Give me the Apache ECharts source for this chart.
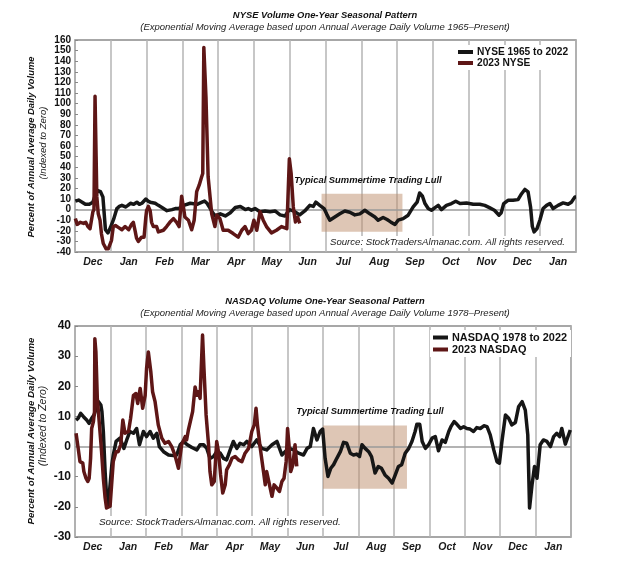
<!DOCTYPE html>
<html>
<head>
<meta charset="utf-8">
<script src="https://cdn.jsdelivr.net/npm/echarts@6/dist/echarts.min.js"></script>
<style>
html,body{margin:0;padding:0;background:#fff;}
#chart{width:640px;height:573px;}
</style>
</head>
<body>
<div id="chart"></div>
<script>
const months = ['Dec','Jan','Feb','Mar','Apr','May','Jun','Jul','Aug','Sep','Oct','Nov','Dec','Jan'];

// x = months since start of December, y = percent of annual average daily volume
const nyseHistory = [
[0.01,8],[0.1,9],[0.2,7],[0.29,5],[0.4,5],[0.5,7],[0.57,14],[0.64,18],[0.71,17],[0.78,12],[0.85,-19],[0.92,-22],[0.99,-17],[1.08,-9],[1.17,1],[1.24,3],[1.31,4],[1.41,2.5],[1.48,4],[1.55,6],[1.64,5],[1.73,7],[1.8,5],[1.87,6],[1.98,10],[2.04,8],[2.1,7],[2.24,6],[2.33,4],[2.43,2],[2.57,-1],[2.71,0],[2.8,1],[2.9,1],[3.04,4],[3.22,6],[3.41,5],[3.55,7],[3.62,8],[3.69,6],[3.76,2],[3.83,-2],[3.92,-6],[4.06,-4],[4.2,-6],[4.34,-3],[4.48,2],[4.62,3],[4.76,0],[4.84,1],[4.93,-0.5],[5.03,1],[5.17,-2],[5.31,-1.3],[5.45,-2],[5.59,-1.3],[5.73,-5],[5.87,-6],[5.99,0],[6.12,-1.5],[6.28,-5],[6.42,-1.3],[6.56,4],[6.66,3],[6.73,7],[6.84,4],[6.96,1],[7.03,-4],[7.12,-10],[7.26,-7],[7.4,-4],[7.54,-1.3],[7.68,-2.5],[7.82,-5],[7.96,-4],[8.1,-0.6],[8.24,-4],[8.38,-7],[8.47,-10],[8.61,-7.5],[8.72,-9.4],[8.82,-11.6],[8.94,-14],[9.03,-10],[9.17,-8.5],[9.31,-5.3],[9.45,2.5],[9.56,7],[9.63,15.7],[9.71,12.6],[9.78,5.7],[9.87,1],[9.96,-0.6],[10.06,1.9],[10.15,4],[10.24,0],[10.38,4],[10.52,5.7],[10.64,7.9],[10.76,5.7],[10.94,6.3],[11.13,5],[11.31,5],[11.45,4],[11.58,1.9],[11.72,-0.6],[11.85,-5.3],[11.91,-3],[11.98,5.7],[12.1,8.8],[12.24,8.8],[12.38,9.4],[12.48,15],[12.57,19],[12.66,16.7],[12.73,2.5],[12.78,-16],[12.83,-21],[12.91,-18],[12.99,-10],[13.08,1],[13.18,4],[13.27,5.7],[13.36,1],[13.5,4],[13.64,6.3],[13.78,5],[13.87,7],[13.97,12],[14,12]
];
const nyse2023 = [
[0.01,-8.5],[0.06,-14],[0.1,-15],[0.15,-12],[0.19,-11],[0.24,-13],[0.3,-12],[0.36,-16],[0.42,-18],[0.47,-19],[0.5,-2],[0.53,0],[0.56,107],[0.59,50],[0.61,12],[0.65,-4],[0.7,-10],[0.74,-23],[0.79,-32],[0.87,-37],[0.93,-37],[1.02,-29],[1.07,-16],[1.13,-15],[1.22,-17],[1.31,-19],[1.4,-16],[1.5,-19],[1.58,-14],[1.63,-12],[1.68,-20],[1.72,-27],[1.77,-30],[1.86,-26],[1.93,-26],[1.98,-7],[2.0,-1],[2.05,3],[2.1,-1],[2.14,-12],[2.19,-16],[2.28,-16],[2.33,-21],[2.47,-19.5],[2.56,-16],[2.65,-12],[2.75,-8.5],[2.84,-12],[2.91,-16],[2.98,12.6],[3.03,2.5],[3.07,-7],[3.17,-10],[3.26,-19],[3.33,-10],[3.4,17],[3.47,23],[3.54,31],[3.57,34],[3.6,153],[3.66,106],[3.72,31],[3.82,-4],[3.91,-16],[3.96,-5],[4.05,-8.5],[4.14,-19.5],[4.28,-19.5],[4.42,-22.6],[4.56,-26],[4.66,-19.5],[4.75,-16],[4.84,-22.6],[4.93,-19.5],[5.0,-10],[5.08,-19.5],[5.17,-2],[5.26,-10],[5.35,-16],[5.49,-22],[5.63,-19.5],[5.77,-16],[5.92,-18],[5.99,48],[6.04,34],[6.1,2.5],[6.16,-11.6],[6.22,-7],[6.28,-13]
];
const nasdaqHistory = [
[0.03,8.8],[0.09,9.4],[0.16,11],[0.24,9.9],[0.33,8.8],[0.4,7.7],[0.47,9.4],[0.54,10.5],[0.61,13.2],[0.66,14.9],[0.73,13.8],[0.76,11.6],[0.8,5],[0.85,-8.3],[0.89,-16],[0.94,-19.3],[0.99,-12.7],[1.04,-6],[1.08,-2.8],[1.16,1.7],[1.27,2.8],[1.38,-0.6],[1.46,2.2],[1.55,5],[1.65,4.4],[1.74,6],[1.82,0.6],[1.93,5],[2.02,3.3],[2.12,5],[2.21,2.8],[2.31,4.4],[2.38,0],[2.5,-1.7],[2.64,-2.8],[2.78,-3],[2.87,-2.8],[2.97,0.6],[3.06,1.7],[3.15,0.8],[3.3,-0.3],[3.44,-1.1],[3.53,0.6],[3.63,0.6],[3.72,-0.6],[3.81,-3.9],[3.91,-3.3],[4.0,-1.7],[4.1,-2.2],[4.19,-3.9],[4.28,-4.4],[4.38,-1.1],[4.47,1.7],[4.57,-0.6],[4.66,1.1],[4.76,0.6],[4.85,1.7],[4.99,0],[5.13,2.2],[5.27,-0.6],[5.41,-1.1],[5.56,0.6],[5.7,1.7],[5.84,-2.8],[5.93,-1.7],[6.05,-0.6],[6.17,-1.1],[6.31,-2.2],[6.45,-2.8],[6.55,-0.6],[6.64,0],[6.73,6],[6.83,2.2],[6.92,5],[6.99,5.8],[7.06,-3.9],[7.14,-9.9],[7.22,-7.2],[7.3,-6],[7.39,-3.9],[7.49,-1.7],[7.58,1.4],[7.67,1.1],[7.77,-2.2],[7.86,-2.8],[7.95,-2.5],[8.03,-3.3],[8.1,0.6],[8.19,-0.6],[8.29,-1.7],[8.37,-3.3],[8.47,-8.8],[8.56,-6.6],[8.65,-7.2],[8.75,-9.4],[8.85,-10.5],[8.95,-12.1],[9.04,-9.4],[9.13,-6.6],[9.22,-6],[9.32,-2.2],[9.42,-0.6],[9.51,1.7],[9.6,5],[9.65,7.4],[9.73,7.4],[9.8,1.7],[9.89,-0.6],[9.98,0.6],[10.08,2.8],[10.17,3.3],[10.26,-1.4],[10.36,2.2],[10.45,1.4],[10.55,5],[10.61,6.6],[10.7,8.3],[10.78,7.4],[10.88,6],[10.97,6.6],[11.06,6],[11.15,5.8],[11.25,5],[11.34,6.3],[11.44,6],[11.54,6.9],[11.63,6.6],[11.72,3.9],[11.82,-1.1],[11.91,-5],[11.98,-5.5],[12.05,1.7],[12.15,10.5],[12.24,9.4],[12.33,7.2],[12.43,8],[12.52,13.2],[12.62,14.9],[12.71,12.1],[12.78,3.9],[12.83,-20.4],[12.9,-12.7],[12.97,-6.6],[13.04,-10.5],[13.13,0.6],[13.22,2.2],[13.32,1.7],[13.42,0],[13.51,3.3],[13.6,4.4],[13.68,3.3],[13.74,6],[13.84,0.8],[13.98,5.5]
];
const nasdaq2023 = [
[0.03,4.4],[0.09,-0.6],[0.14,-5],[0.22,-5.5],[0.25,-8.3],[0.31,-10.5],[0.36,-11.6],[0.4,-10.5],[0.44,-3.9],[0.47,6],[0.52,8.3],[0.55,11.6],[0.56,35.8],[0.59,31.4],[0.63,16],[0.69,7.2],[0.75,-1.7],[0.8,-10.5],[0.85,-17],[0.89,-20.4],[0.99,-19.8],[1.08,-5],[1.16,-1.7],[1.22,-1.7],[1.29,0.6],[1.35,8.8],[1.41,4.4],[1.51,5],[1.57,9.4],[1.65,17],[1.72,17.6],[1.77,14.3],[1.84,19.3],[1.91,12.7],[1.98,17],[2.02,25.9],[2.07,31.4],[2.14,24.8],[2.19,18.2],[2.26,14.9],[2.35,7.2],[2.45,2.8],[2.54,1.1],[2.64,1.7],[2.73,0],[2.82,-2.8],[2.92,-7.2],[2.97,-7.7],[3.01,0.6],[3.11,3.3],[3.15,2.2],[3.2,5.5],[3.25,5],[3.32,11.6],[3.39,19.8],[3.44,17],[3.48,18.2],[3.53,16],[3.6,37],[3.64,25.9],[3.7,10.5],[3.77,0.6],[3.81,-8.3],[3.86,-12.7],[3.93,-11.6],[4.0,1.7],[4.05,-1.7],[4.11,-9.4],[4.17,-15.4],[4.24,-12.7],[4.28,-7.7],[4.36,-6],[4.43,-3.9],[4.52,-3.3],[4.61,-4.4],[4.71,-5],[4.8,-2.2],[4.9,-0.6],[4.99,5],[5.06,7.2],[5.11,12.7],[5.15,7.2],[5.23,-0.6],[5.32,-8.3],[5.37,-12.7],[5.41,-8.3],[5.49,-12.7],[5.56,-16.5],[5.62,-12.7],[5.7,-13.8],[5.77,-14.9],[5.84,-11.6],[5.9,-10.5],[5.96,-5],[6.0,6],[6.04,0.6],[6.09,-8.3],[6.15,-6],[6.21,0.6],[6.26,-6.6]
];
const nyseLull = [[6.89, 15], [9.15, -21]];
const nasdaqLull = [[7.0, 7], [9.37, -14]];

const FONT = '"Liberation Sans", Arial, Helvetica, sans-serif';
const BLACK = '#161616';
const RED = '#5e1616';

function monthAxis(gridIndex) {
  return [
    {gridIndex, type:'value', min:0, max:14, interval:1, position:'bottom',
     axisLine:{show:false}, axisTick:{show:false}, axisLabel:{show:false},
     splitLine:{show:true, lineStyle:{color:'#b4b4b4', width:1.5}}},
    {gridIndex, type:'category', data:months, position:'bottom', boundaryGap:true,
     axisLine:{show:false}, axisTick:{show:false}, splitLine:{show:false},
     axisLabel:{fontFamily:FONT, fontWeight:'bold', fontStyle:'italic', fontSize:10.5, color:'#1a1a1a', margin:5, interval:0}}
  ];
}
function pctAxis(gridIndex, min, max, size) {
  return {gridIndex, type:'value', min, max, interval:10,
    axisLine:{show:false},
    axisTick:{show:true, inside:true, length:3, lineStyle:{color:'#888'}},
    splitLine:{show:false},
    axisLabel:{fontFamily:FONT, fontWeight:'bold', fontSize:size, color:'#111', margin:4,
      showMinLabel:true, showMaxLabel:true, hideOverlap:false}};
}
function lineSeries(name, data, xi, yi, color, z, lull) {
  const s = {name, type:'line', data, xAxisIndex:xi, yAxisIndex:yi, showSymbol:false, symbol:'none',
    lineStyle:{color, width:3.5, join:'round'}, itemStyle:{color}, z, animation:false};
  if (lull) {
    s.markArea = {silent:true, z:1, itemStyle:{color:'rgba(189,141,107,0.5)'},
      data:[[{coord:lull[0]},{coord:lull[1]}]]};
    s.markLine = {silent:true, z:2, symbol:'none', label:{show:false},
      lineStyle:{color:'#9a9a9a', width:1.5, type:'solid'}, data:[{yAxis:0}]};
  }
  return s;
}
function txt(x, y, text, opt) {
  return Object.assign({type:'text', x, y, z:100, style:Object.assign({text, fontFamily:FONT, fill:'#111',
    align:'center', verticalAlign:'middle'}, opt.style || {})}, opt.el || {});
}

const chart = echarts.init(document.getElementById('chart'), null, {renderer:'canvas'});
chart.setOption({
  animation:false,
  backgroundColor:'#fff',
  grid:[
    {left:75, top:40, width:501, height:212, show:true, borderColor:'#8a8a8a', borderWidth:1.5},
    {left:75, top:326, width:496, height:211, show:true, borderColor:'#8a8a8a', borderWidth:1.5}
  ],
  xAxis:[...monthAxis(0), ...monthAxis(1)],
  yAxis:[pctAxis(0,-40,160,10), pctAxis(1,-30,40,12)],
  legend:[
    {data:['NYSE 1965 to 2022','2023 NYSE'], left:455, top:45, orient:'vertical', icon:'rect',
     itemWidth:15, itemHeight:4, itemGap:1, backgroundColor:'#fff', padding:[2,4,2,3],
     textStyle:{fontFamily:FONT, fontWeight:'bold', fontSize:10.2, color:'#111', padding:[0,0,0,-1]}},
    {data:['NASDAQ 1978 to 2022','2023 NASDAQ'], left:430, top:330, orient:'vertical', icon:'rect',
     itemWidth:15, itemHeight:4, itemGap:1, backgroundColor:'#fff', padding:[2,4,2,3],
     textStyle:{fontFamily:FONT, fontWeight:'bold', fontSize:10.9, color:'#111', padding:[0,0,0,-1]}}
  ],
  series:[
    lineSeries('NYSE 1965 to 2022', nyseHistory, 0, 0, BLACK, 3, nyseLull),
    lineSeries('2023 NYSE', nyse2023, 0, 0, RED, 4),
    lineSeries('NASDAQ 1978 to 2022', nasdaqHistory, 2, 1, BLACK, 3, nasdaqLull),
    lineSeries('2023 NASDAQ', nasdaq2023, 2, 1, RED, 4)
  ],
  graphic:[
    txt(325, 15, 'NYSE Volume One-Year Seasonal Pattern', {style:{fontSize:9.4, fontWeight:'bold', fontStyle:'italic'}}),
    txt(325, 27, '(Exponential Moving Average based upon Annual Average Daily Volume 1965\u2013Present)', {style:{fontSize:9.5, fontStyle:'italic', fill:'#222'}}),
    txt(31, 147, 'Percent of Annual Average Daily Volume', {style:{fontSize:9.4, fontWeight:'bold', fontStyle:'italic'}, el:{rotation:Math.PI/2}}),
    txt(43, 143, '(Indexed to Zero)', {style:{fontSize:9.5, fontStyle:'italic', fill:'#222'}, el:{rotation:Math.PI/2}}),
    txt(368, 180, 'Typical Summertime Trading Lull', {style:{fontSize:9.4, fontWeight:'bold', fontStyle:'italic'}}),
    txt(567, 242, 'Source: StockTradersAlmanac.com. All rights reserved.', {style:{fontSize:9.6, fontStyle:'italic', fill:'#222', align:'right', backgroundColor:'#fff', padding:[1,2]}}),

    txt(325, 301, 'NASDAQ Volume One-Year Seasonal Pattern', {style:{fontSize:9.4, fontWeight:'bold', fontStyle:'italic'}}),
    txt(325, 313, '(Exponential Moving Average based upon Annual Average Daily Volume 1978\u2013Present)', {style:{fontSize:9.5, fontStyle:'italic', fill:'#222'}}),
    txt(31, 431, 'Percent of Annual Average Daily Volume', {style:{fontSize:9.7, fontWeight:'bold', fontStyle:'italic'}, el:{rotation:Math.PI/2}}),
    txt(43, 426, '(Indexed to Zero)', {style:{fontSize:10.5, fontStyle:'italic', fill:'#222'}, el:{rotation:Math.PI/2}}),
    txt(370, 411, 'Typical Summertime Trading Lull', {style:{fontSize:9.4, fontWeight:'bold', fontStyle:'italic'}}),
    txt(97, 522, 'Source: StockTradersAlmanac.com. All rights reserved.', {style:{fontSize:9.9, fontStyle:'italic', fill:'#222', align:'left', backgroundColor:'#fff', padding:[1,2]}})
  ]
});
</script>
</body>
</html>
